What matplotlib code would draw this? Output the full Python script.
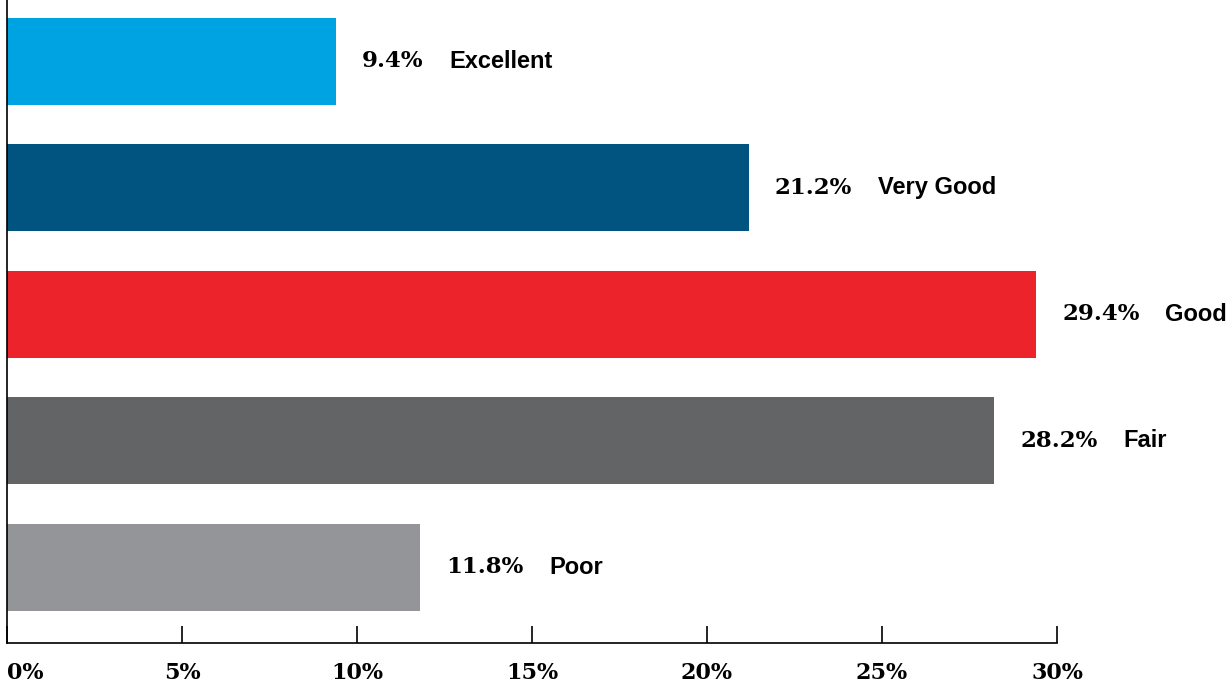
import matplotlib
matplotlib.use("Agg")
import matplotlib.pyplot as plt
from matplotlib import font_manager as fm

# data, top to bottom
categories = ["Excellent", "Very Good", "Good", "Fair", "Poor"]
values = [9.4, 21.2, 29.4, 28.2, 11.8]
colors = ["#00A3E2", "#00547F", "#EC232B", "#636466", "#939598"]
ticks = [0, 5, 10, 15, 20, 25, 30]
tick_labels = ["0%", "5%", "10%", "15%", "20%", "25%", "30%"]

names = {f.name for f in fm.fontManager.ttflist}
sans = "Liberation Sans Narrow" if "Liberation Sans Narrow" in names else "Liberation Sans"
serif = "DejaVu Serif Condensed" if "DejaVu Serif Condensed" in names else "DejaVu Serif"

fig = plt.figure(figsize=(12.3, 6.91), dpi=100)
ax = fig.add_axes([7/1230, 1 - 643/691, 1050/1230, 643/691])

n = len(categories)
ypos = [n - 1 - i for i in range(n)]
ax.barh(ypos, values, height=0.688, color=colors, left=0)

for y, v, c in zip(ypos, values, categories):
    t = ax.annotate(f"{v}%", xy=(v, y), xytext=(26, 0), textcoords="offset pixels",
                    va="center", ha="left", fontsize=16.5, fontweight="bold", family=serif)
    ax.annotate(c, xy=(1, 0.5), xycoords=t, xytext=(26, 0), textcoords="offset pixels",
                va="center", ha="left", fontsize=17, fontweight="bold", family=sans)

ax.set_xlim(0, 30)
ax.set_ylim(-0.597, 4.486)
ax.set_yticks([])
ax.set_xticks(ticks)
ax.set_xticklabels(tick_labels, fontsize=16, fontweight="bold", family=serif)
ax.get_xticklabels()[0].set_horizontalalignment("left")
ax.tick_params(axis="x", direction="in", length=12, width=1.2, pad=14, color="black")
for s in ["top", "right"]:
    ax.spines[s].set_visible(False)
ax.spines["left"].set_linewidth(1.2)
ax.spines["bottom"].set_linewidth(1.2)

fig.savefig("out.png", dpi=100)
